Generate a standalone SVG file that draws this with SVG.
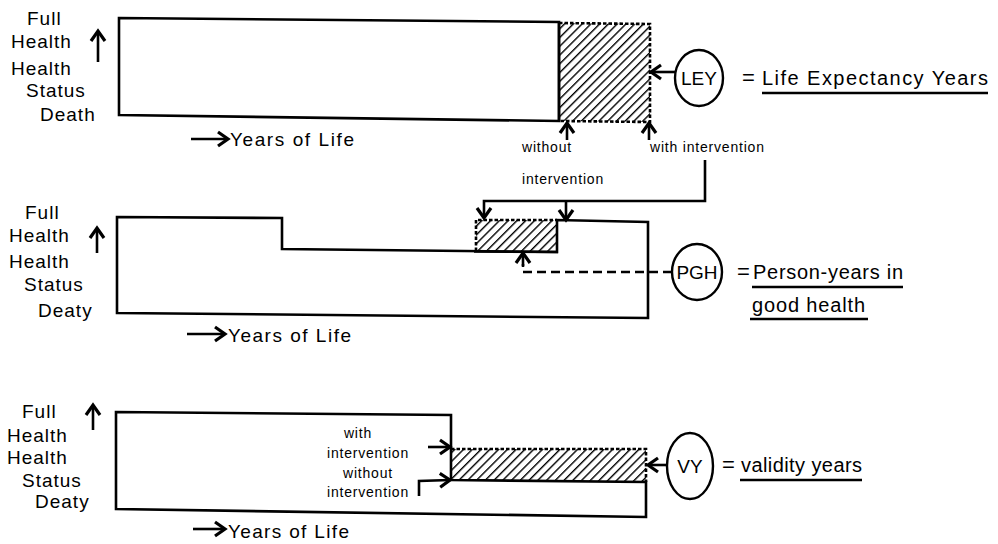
<svg xmlns="http://www.w3.org/2000/svg" width="998" height="544" viewBox="0 0 998 544">
<style>
  text { font-family: "Liberation Sans", Arial, sans-serif; fill: #000; }
  .lab { font-size: 19px; letter-spacing: 1px; }
  .small { font-size: 14px; letter-spacing: 0.8px; }
  .big { font-size: 20px; }
  .outline { fill: #fff; stroke: #000; stroke-width: 2.6; stroke-linejoin: miter; }
  .dash { fill: none; stroke: #000; stroke-width: 2.6; stroke-dasharray: 3.5 2; }
  .hatch { fill: url(#hatch); stroke: none; }
  .arr { fill: none; stroke: #000; stroke-width: 2.6; marker-end: url(#ah); }
  .plain { fill: none; stroke: #000; stroke-width: 2.5; }
  .pdash { fill: none; stroke: #000; stroke-width: 2.5; stroke-dasharray: 9 5; }
  .circ { fill: #fff; stroke: #000; stroke-width: 2.4; }
  .ul { stroke: #000; stroke-width: 2.4; }
</style>
<defs>
  <pattern id="hatch" patternUnits="userSpaceOnUse" width="6.2" height="6.2" patternTransform="rotate(45)">
    <line x1="0" y1="-1" x2="0" y2="7.2" stroke="#000" stroke-width="2.8"/>
  </pattern>
  <marker id="ah" markerWidth="18" markerHeight="18" refX="12" refY="9" orient="auto" markerUnits="userSpaceOnUse">
    <path d="M2,2 L12,9 L2,16" fill="none" stroke="#000" stroke-width="3.2" stroke-linejoin="miter"/>
  </marker>
</defs>

<!-- Panel 1 -->
<g id="panel1-axis">
  <text class="lab" x="27" y="25">Full</text>
  <text class="lab" x="11" y="48">Health</text>
  <text class="lab" x="11" y="75">Health</text>
  <text class="lab" x="26" y="97">Status</text>
  <text class="lab" x="40" y="121">Death</text>
  <text class="lab" x="230" y="146" textLength="125" lengthAdjust="spacing">Years of Life</text>
</g>
<g id="panel1-chart">
  <polygon class="outline" points="119,18 559,22 559,121 119,115"/>
  <polygon class="hatch" points="559,23 650,24 650,122 559,121"/>
  <path class="dash" d="M559,23 L650,24 L650,122 L559,121"/>
  <line class="plain" x1="559" y1="22" x2="559" y2="121"/>
</g>
<g id="panel1-labels">
  <text class="small" x="522" y="152">without</text>
  <text class="small" x="522" y="184">intervention</text>
  <text class="small" x="650" y="152">with intervention</text>
</g>
<g id="ley">
  <ellipse class="circ" cx="699" cy="78" rx="24" ry="28"/>
  <text class="big" x="699" y="85" text-anchor="middle" style="font-size:19px">LEY</text>
</g>
<g id="ley-def">
  <text class="big" x="742" y="85" style="font-size:22px">=</text>
  <text class="big" x="762" y="85" textLength="226" lengthAdjust="spacing">Life Expectancy Years</text>
  <line class="ul" x1="762" y1="93" x2="988" y2="93"/>
</g>

<!-- Panel 2 -->
<g id="panel2-axis">
  <text class="lab" x="25" y="219">Full</text>
  <text class="lab" x="9" y="242">Health</text>
  <text class="lab" x="9" y="268">Health</text>
  <text class="lab" x="24" y="291">Status</text>
  <text class="lab" x="38" y="317">Deaty</text>
  <text class="lab" x="228" y="342" textLength="124" lengthAdjust="spacing">Years of Life</text>
</g>
<g id="panel2-chart">
  <path class="outline" d="M117,217 L282,218 L282,249 L557,252 L557,220 L648,222 L648,318 L117,313 Z"/>
  <rect class="hatch" x="476" y="220" width="81" height="32"/>
  <path class="dash" d="M476,251 L476,220 L557,220"/>
  <line class="plain" x1="474" y1="251.5" x2="558" y2="252"/>
</g>
<g id="pgh">
  <ellipse class="circ" cx="697" cy="272" rx="25" ry="28"/>
  <text class="big" x="697" y="279" text-anchor="middle" style="font-size:19px">PGH</text>
</g>
<g id="pgh-def">
  <text class="big" x="737" y="279" style="font-size:22px">=</text>
  <text class="big" x="753" y="279" textLength="150" lengthAdjust="spacing">Person-years in</text>
  <line class="ul" x1="752" y1="287" x2="903" y2="287"/>
  <text class="big" x="752" y="312" textLength="113" lengthAdjust="spacing">good health</text>
  <line class="ul" x1="750" y1="319" x2="868" y2="319"/>
</g>

<!-- Panel 3 -->
<g id="panel3-axis">
  <text class="lab" x="22" y="418">Full</text>
  <text class="lab" x="7" y="442">Health</text>
  <text class="lab" x="7" y="464">Health</text>
  <text class="lab" x="22" y="487">Status</text>
  <text class="lab" x="35" y="508">Deaty</text>
  <text class="lab" x="228" y="538" textLength="122" lengthAdjust="spacing">Years of Life</text>
</g>
<g id="panel3-chart">
  <path class="outline" d="M116,412 L451,415 L451,480 L646,482 L646,517 L116,509 Z"/>
  <polygon class="hatch" points="451,449 646,449 646,482 451,480"/>
  <path class="dash" d="M451,449 L646,449 L646,482"/>
</g>
<g id="panel3-labels">
  <text class="small" x="358" y="438" text-anchor="middle">with</text>
  <text class="small" x="327" y="458">intervention</text>
  <text class="small" x="368" y="478" text-anchor="middle">without</text>
  <text class="small" x="327" y="497">intervention</text>
</g>
<g id="vy">
  <ellipse class="circ" cx="690" cy="466" rx="23" ry="33"/>
  <text class="big" x="690" y="473" text-anchor="middle" style="font-size:19px">VY</text>
</g>
<g id="vy-def">
  <text class="big" x="722" y="472" style="font-size:22px">=</text>
  <text class="big" x="741" y="472" textLength="121" lengthAdjust="spacing">validity years</text>
  <line class="ul" x1="740" y1="480" x2="862" y2="480"/>
</g>

<g id="connectors">
  <!-- axis arrows -->
  <line class="arr" x1="98" y1="62" x2="98" y2="31"/>
  <line class="arr" x1="191" y1="139" x2="228" y2="139"/>
  <line class="arr" x1="97" y1="253" x2="97" y2="228"/>
  <line class="arr" x1="187" y1="334" x2="225" y2="334"/>
  <line class="arr" x1="93" y1="430" x2="93" y2="405"/>
  <line class="arr" x1="193" y1="529" x2="225" y2="529"/>
  <!-- panel 1 -->
  <line class="arr" x1="675" y1="72" x2="651" y2="72"/>
  <line class="arr" x1="567" y1="140" x2="567" y2="123"/>
  <line class="arr" x1="649" y1="140" x2="649" y2="123"/>
  <polyline class="arr" points="705,160 705,201 484,201 484,218"/>
  <polyline class="arr" points="566,201 566,220"/>
  <!-- panel 2 -->
  <polyline class="pdash" points="672,272 523,272 523,264"/>
  <line class="arr" x1="523" y1="266" x2="523" y2="253"/>
  <!-- panel 3 -->
  <line class="arr" x1="428" y1="447" x2="450" y2="447"/>
  <polyline class="arr" points="419,496 419,481 450,480"/>
  <line class="arr" x1="667" y1="465" x2="648" y2="465"/>
</g>
</svg>
